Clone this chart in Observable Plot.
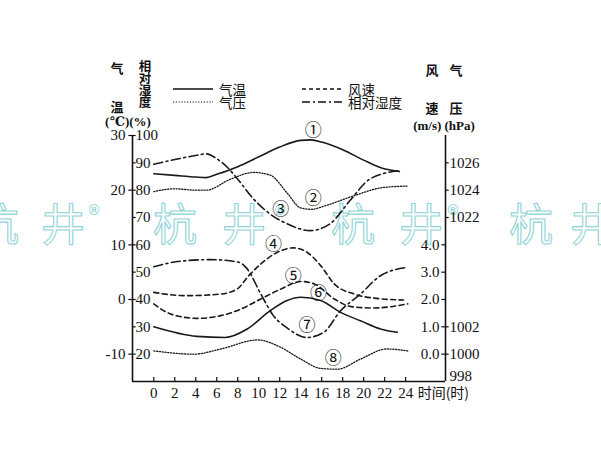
<!DOCTYPE html>
<html><head><meta charset="utf-8">
<script src="https://cdn.jsdelivr.net/npm/d3@7"></script>
<script src="https://cdn.jsdelivr.net/npm/@observablehq/plot@0.6"></script>
<style>
html,body{margin:0;padding:0;background:#fff;}
#wrap{position:relative;width:601px;height:462px;overflow:hidden;background:#fff;}
#wrap svg{position:absolute;left:0;top:0;}
</style></head><body><div id="wrap"></div>
<script>
// ---------- data ----------
const hourTicks = [0, 2, 4, 6, 8, 10, 12, 14, 16, 18, 20, 22, 24];
const tempTicks = [-10, 0, 10, 20, 30];
const humTicks = [20, 30, 40, 50, 60, 70, 80, 90, 100];
const windTicks = [0, 1, 2, 3, 4];
const pressTicks = [1000, 1002, 1022, 1024, 1026];
const pressBottomLabel = [998];

// upper group (①②③)
const temp1Hours = [0, 2, 4, 5, 6, 8, 10, 12, 14, 15, 16, 18, 20, 21.5, 23.4];
const temp1Values = [23.0, 22.7, 22.4, 22.3, 22.9, 24.3, 26.1, 27.9, 29.1, 29.2, 28.8, 27.4, 25.5, 24.2, 23.4];
const press1Hours = [0, 2, 4, 5, 7.3, 9.5, 11.1, 12.7, 14, 15, 16.5, 19.1, 21.9, 24.2];
const press1Values = [1023.9, 1024.1, 1024.0, 1024.0, 1024.8, 1025.3, 1025.1, 1023.8, 1022.7, 1022.6, 1022.9, 1023.6, 1024.2, 1024.3];
const hum1Hours = [0, 2, 4, 5, 6, 7, 8, 9.5, 11, 12.7, 14.9, 16.8, 18.7, 20.6, 23.4];
const hum1Values = [89.5, 91.2, 92.7, 93.3, 91.5, 88.4, 84.0, 76.8, 71.5, 67.7, 65.2, 67.7, 76.2, 84.1, 87.2];

// lower group (④⑤⑥⑦⑧)
const wind4Hours = [0, 3, 6.4, 8, 9, 10.2, 11.8, 13.3, 14.6, 15.9, 17.2, 19.1, 21, 23.8];
const wind4Values = [2.26, 2.14, 2.2, 2.4, 2.85, 3.3, 3.73, 3.89, 3.73, 3.24, 2.57, 2.2, 2.05, 1.98];
const wind5Hours = [0, 1.6, 4.1, 6.4, 8.3, 10.2, 12.1, 14, 15.3, 17.2, 18.8, 21, 24.2];
const wind5Values = [1.84, 1.47, 1.31, 1.41, 1.65, 2.02, 2.38, 2.66, 2.57, 2.02, 1.74, 1.69, 1.84];
const temp6Hours = [0, 4.1, 6.8, 8.9, 11.1, 12.7, 14, 15.9, 17.8, 19.7, 21.6, 23.2];
const temp6Values = [-5.0, -6.75, -6.95, -5.4, -2.05, -0.2, 0.4, -0.2, -2.35, -3.9, -5.4, -6.0];
const hum7Hours = [0, 2.5, 5.4, 8.1, 8.9, 10.2, 11.4, 12.7, 14.6, 16.2, 17.8, 19.7, 21.6, 24.2];
const hum7Values = [52.0, 54.0, 54.6, 53.6, 51.2, 42.0, 34.1, 29.6, 26.1, 28.0, 35.9, 42.0, 48.7, 51.8];
const press8Hours = [0, 3.8, 6.4, 9.9, 12.1, 14, 15.9, 17.5, 19.7, 22.2, 24.2];
const press8Values = [1000.24, 1000.0, 1000.38, 1001.04, 1000.5, 999.64, 998.96, 998.9, 999.64, 1000.38, 1000.24];

// circled curve numbers: hour, humidity-axis value
const markLabels = ["①", "②", "③", "④", "⑤", "⑥", "⑦", "⑧"];
const markHours = [15.2, 15.2, 12.1, 11.4, 13.3, 15.7, 14.6, 17.1];
const markValues = [101.8, 76.9, 72.9, 60.1, 48.4, 42.1, 30.4, 18.3];

// ---------- axis conversions onto the humidity (%) scale ----------
const tH = t => 40 + 2 * t;
const wH = w => 20 + 10 * w;
const pH = p => p > 1010 ? 90 + 5 * (p - 1026) : 20 + 5 * (p - 1000);

const X0 = -2.03, X1 = 27.8, Y0 = 10, Y1 = 100;
const serif = "'Liberation Serif','DejaVu Serif','Times New Roman','Noto Sans CJK SC',serif";
const cjk = "'Noto Sans CJK SC',sans-serif";

const rows = (hours, values, f) => hours.map((h, i) => ({hour: h, v: f(values[i])}));
const solid = {strokeWidth: 1.6};
const dashed = {strokeWidth: 1.6, strokeDasharray: "5,3.5"};
const dotted = {strokeWidth: 1.3, strokeDasharray: "1.2,1.6"};
const dashdot = {strokeWidth: 1.6, strokeDasharray: "9,3.5,2,3.5"};
const line = (data, st) => Plot.line(data, {x: "hour", y: "v", curve: "monotone-x", stroke: "#1a1a1a", ...st});
const num = {fontSize: 15, fontFamily: serif, fill: "#111"};

const marks = [
  // axes
  Plot.ruleX([X0, X1], {y1: Y0, y2: Y1, stroke: "#111", strokeWidth: 1.6}),
  Plot.ruleY([Y0], {x1: X0, x2: X1, stroke: "#111", strokeWidth: 1.6}),
  Plot.ruleX(hourTicks, {y1: Y0, y2: Y0 + 1.5, stroke: "#111", strokeWidth: 1.2}),
  Plot.text(hourTicks, {x: d => d, y: Y0, dy: 12, text: String, ...num}),
  Plot.text(["时间(时)"], {x: 24, y: Y0, dx: 12, dy: 12, text: d => d, textAnchor: "start", fontSize: 14, fontFamily: cjk, fill: "#111"}),
  // left axis
  Plot.ruleY(humTicks, {x1: X0, x2: X0 + 0.35, stroke: "#111", strokeWidth: 1.2}),
  Plot.ruleY(tempTicks.map(tH), {x1: X0 - 0.35, x2: X0, stroke: "#111", strokeWidth: 1.2}),
  Plot.text(humTicks, {x: X0, y: d => d, dx: 3, text: String, textAnchor: "start", ...num}),
  Plot.text(tempTicks, {x: X0, y: tH, dx: -7, text: String, textAnchor: "end", ...num}),
  // right axis
  Plot.ruleY(windTicks.map(wH), {x1: X1 - 0.35, x2: X1, stroke: "#111", strokeWidth: 1.2}),
  Plot.ruleY(pressTicks.map(pH), {x1: X1, x2: X1 + 0.35, stroke: "#111", strokeWidth: 1.2}),
  Plot.text(windTicks, {x: X1, y: wH, dx: -6, text: d => d.toFixed(1), textAnchor: "end", ...num}),
  Plot.text(pressTicks, {x: X1, y: pH, dx: 4, text: String, textAnchor: "start", ...num}),
  Plot.text(pressBottomLabel, {x: X1, y: pH, dx: 4, dy: -5, text: String, textAnchor: "start", ...num}),
  // curves
  line(rows(temp1Hours, temp1Values, tH), solid),
  line(rows(press1Hours, press1Values, pH), dotted),
  line(rows(hum1Hours, hum1Values, d => d), dashdot),
  line(rows(wind4Hours, wind4Values, wH), dashed),
  line(rows(wind5Hours, wind5Values, wH), dashed),
  line(rows(temp6Hours, temp6Values, tH), solid),
  line(rows(hum7Hours, hum7Values, d => d), dashdot),
  line(rows(press8Hours, press8Values, pH), dotted),
  Plot.text(markLabels, {x: (d, i) => markHours[i], y: (d, i) => markValues[i], text: d => d, fontSize: 17, fontFamily: cjk, fill: "#111"})
];

const chart = Plot.plot({
  width: 601, height: 462,
  marginLeft: 132, marginRight: 156, marginTop: 135, marginBottom: 81,
  x: {domain: [X0, X1], axis: null},
  y: {domain: [Y0, Y1], axis: null},
  style: {background: "transparent", overflow: "visible"},
  marks
});

// ---------- overlay: watermark, headers, legend ----------
const wrap = d3.select("#wrap");
const ov = wrap.append("svg").attr("width", 601).attr("height", 462);
const wmChars = [["杭", -3], ["井", 63], ["杭", 175], ["井", 244], ["杭", 353], ["井", 421], ["杭", 531], ["井", 592]];
ov.selectAll("text.wm").data(wmChars).join("text")
  .attr("x", d => d[1]).attr("y", 222).attr("text-anchor", "middle").attr("dominant-baseline", "central")
  .attr("font-family", cjk).attr("font-size", 44).attr("fill", "none").attr("stroke", "#8fd4d8").attr("stroke-width", 1.1)
  .text(d => d[0]);
ov.selectAll("text.r").data([94, 280, 453]).join("text")
  .attr("x", d => d).attr("y", 210).attr("text-anchor", "middle").attr("dominant-baseline", "central")
  .attr("font-family", "DejaVu Sans").attr("font-size", 14).attr("fill", "#7fcfd3").text("®");

const hdr = [
  ["气", 117, 68, 13], ["相", 145, 67, 12.5], ["对", 145, 79, 12.5], ["湿", 145, 91, 12.5], ["度", 145, 103, 12.5],
  ["温", 117, 107, 13], ["(℃)(%)", 128, 121, 13],
  ["风", 432, 70, 13], ["气", 456, 70, 13], ["速", 432, 108, 13], ["压", 456, 108, 13], ["(m/s) (hPa)", 444, 125, 13]
];
ov.selectAll("text.h").data(hdr).join("text")
  .attr("x", d => d[1]).attr("y", d => d[2]).attr("text-anchor", "middle").attr("dominant-baseline", "central")
  .attr("font-family", serif).attr("font-size", d => d[3]).attr("font-weight", "bold").attr("fill", "#111").text(d => d[0]);

const leg = [
  {x: 173, y: 89, st: null, t: "气温"},
  {x: 173, y: 102, st: "1.2,1.6", t: "气压"},
  {x: 302, y: 89, st: "4,3", t: "风速"},
  {x: 302, y: 102, st: "8,3,2,3", t: "相对湿度"}
];
leg.forEach(l => {
  ov.append("line").attr("x1", l.x).attr("x2", l.x + 40).attr("y1", l.y).attr("y2", l.y)
    .attr("stroke", "#111").attr("stroke-width", l.st === "1.2,1.6" ? 1.2 : 1.5)
    .attr("stroke-dasharray", l.st);
  ov.append("text").attr("x", l.x + 46).attr("y", l.y).attr("dominant-baseline", "central")
    .attr("font-family", cjk).attr("font-size", 13.5).attr("fill", "#111").text(l.t);
});

wrap.node().appendChild(chart);
</script></body></html>
